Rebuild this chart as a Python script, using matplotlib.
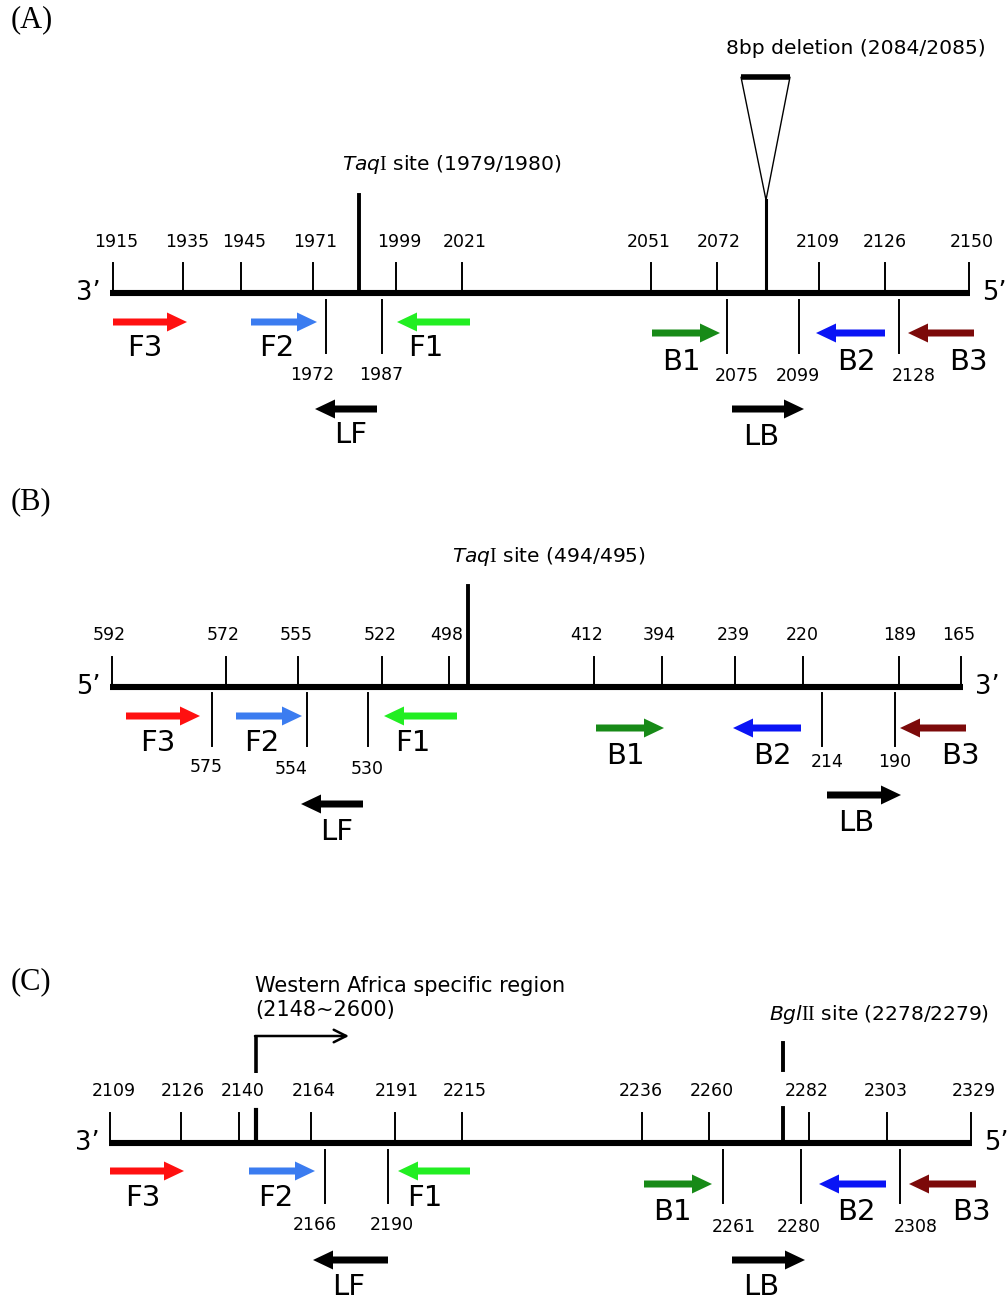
import matplotlib
matplotlib.use("Agg")
import matplotlib.pyplot as plt
from matplotlib.patches import Polygon

plt.rcParams['font.family'] = ['DejaVu Sans']
plt.rcParams['mathtext.fontset'] = 'custom'
plt.rcParams['mathtext.it'] = 'DejaVu Sans:italic'
plt.rcParams['mathtext.rm'] = 'Liberation Serif'

PRIMERS = ["F3", "F2", "F1", "B1", "B2", "B3", "LF", "LB"]
PRIMER_COLORS = ["#ff1010", "#3b7cf0", "#22ee22", "#178a17", "#0a14f5", "#7c0a0a", "black", "black"]

# (A) positions on the reference gene
A_TOP_LABELS = ["1915", "1935", "1945", "1971", "1999", "2021", "2051", "2072", "2109", "2126", "2150"]
A_BOTTOM_LABELS = ["1972", "1987", "2075", "2099", "2128"]
A_SITE = r"$\mathit{Taq}\mathrm{I}$ site (1979/1980)"
A_DELETION = "8bp deletion (2084/2085)"

# (B)
B_TOP_LABELS = ["592", "572", "555", "522", "498", "412", "394", "239", "220", "189", "165"]
B_BOTTOM_LABELS = ["575", "554", "530", "214", "190"]
B_SITE = r"$\mathit{Taq}\mathrm{I}$ site (494/495)"

# (C)
C_TOP_LABELS = ["2109", "2126", "2140", "2164", "2191", "2215", "2236", "2260", "2282", "2303", "2329"]
C_BOTTOM_LABELS = ["2166", "2190", "2261", "2280", "2308"]
C_SITE = r"$\mathit{Bgl}\mathrm{II}$ site (2278/2279)"
C_REGION = "Western Africa specific region\n(2148~2600)"

# layout (pixel coordinates of the drawing)
A_LAYOUT = dict(
    line_y=293, x0=110, x1=970, ends=("3\u2019", "5\u2019"),
    top_x=[113, 183, 241, 313, 396, 462, 651, 717, 819, 885, 969],
    top_lx=[116, 187, 244, 315, 399, 465, 649, 719, 818, 885, 972],
    top_y=(263, 293), top_ly=242,
    bot_x=[326, 382, 727, 799, 899],
    bot_lx=[312, 381, 737, 798, 914], bot_ly=[375, 375, 376, 376, 376],
    bot_y=(300, 353),
    starts=[113, 251, 470, 652, 885, 974, 377, 732],
    ends_x=[187, 317, 397, 720, 816, 908, 315, 804],
    arrow_y=[322, 322, 322, 333, 333, 333, 409, 409],
    lab_x=[145, 277, 426, 681, 856, 968, 351, 761],
    lab_y=[348, 348, 348, 362, 362, 362, 435, 437],
)
B_LAYOUT = dict(
    line_y=687, x0=110, x1=963, ends=("5\u2019", "3\u2019"),
    top_x=[112, 226, 298, 382, 449, 594, 662, 735, 803, 899, 961],
    top_lx=[109, 223, 296, 380, 447, 587, 659, 733, 802, 900, 959],
    top_y=(657, 687), top_ly=635,
    bot_x=[212, 307, 368, 822, 895],
    bot_lx=[206, 291, 367, 827, 895], bot_ly=[767, 769, 769, 762, 762],
    bot_y=(693, 746),
    starts=[126, 236, 457, 596, 801, 966, 363, 827],
    ends_x=[200, 302, 384, 664, 733, 900, 301, 901],
    arrow_y=[716, 716, 716, 728, 728, 728, 804, 795],
    lab_x=[158, 262, 413, 625, 772, 960, 337, 856],
    lab_y=[743, 743, 743, 756, 756, 756, 832, 823],
)
C_LAYOUT = dict(
    line_y=1143, x0=109, x1=972, ends=("3\u2019", "5\u2019"),
    top_x=[110, 181, 239, 311, 395, 462, 642, 709, 809, 887, 971],
    top_lx=[114, 183, 243, 314, 397, 465, 641, 712, 807, 886, 974],
    top_y=(1113, 1143), top_ly=1091,
    bot_x=[325, 388, 723, 801, 900],
    bot_lx=[315, 392, 734, 799, 916], bot_ly=[1225, 1225, 1227, 1227, 1227],
    bot_y=(1150, 1203),
    starts=[110, 249, 470, 644, 886, 976, 388, 732],
    ends_x=[184, 315, 398, 712, 819, 909, 313, 805],
    arrow_y=[1171, 1171, 1171, 1184, 1184, 1184, 1260, 1260],
    lab_x=[143, 276, 425, 672, 856, 971, 349, 761],
    lab_y=[1198, 1198, 1198, 1212, 1212, 1212, 1287, 1287],
)


def draw_panel(ax, top_labels, bottom_labels, lay):
    y = lay["line_y"]
    ax.plot([lay["x0"], lay["x1"]], [y, y], color="black", lw=4.4, solid_capstyle="butt")
    ax.text(lay["x0"] - 22, y, lay["ends"][0], fontsize=18.5, ha="center", va="center")
    ax.text(lay["x1"] + 24, y, lay["ends"][1], fontsize=18.5, ha="center", va="center")
    for x, lx, lab in zip(lay["top_x"], lay["top_lx"], top_labels):
        ax.plot([x, x], lay["top_y"], color="black", lw=1.4)
        ax.text(lx, lay["top_ly"], lab, fontsize=12.5, ha="center", va="center")
    for x, lx, ly, lab in zip(lay["bot_x"], lay["bot_lx"], lay["bot_ly"], bottom_labels):
        ax.plot([x, x], lay["bot_y"], color="black", lw=1.4)
        ax.text(lx, ly, lab, fontsize=12.5, ha="center", va="center")
    for name, c, s, e, ay, tx, ty in zip(PRIMERS, PRIMER_COLORS, lay["starts"], lay["ends_x"],
                                         lay["arrow_y"], lay["lab_x"], lay["lab_y"]):
        ax.arrow(s, ay, e - s, 0, width=7, head_width=19, head_length=20,
                 length_includes_head=True, color=c, lw=0)
        ax.text(tx, ty, name, fontsize=21, ha="center", va="center")


fig = plt.figure(figsize=(10.08, 13.02), dpi=100)
ax = fig.add_axes([0, 0, 1, 1])
ax.set_xlim(0, 1008)
ax.set_ylim(1302, 0)
ax.axis("off")

for tag, ty in zip(["(A)", "(B)", "(C)"], [20, 502, 982]):
    ax.text(11, ty, tag, fontsize=22, family="Liberation Serif", ha="left", va="center")

# (A)
draw_panel(ax, A_TOP_LABELS, A_BOTTOM_LABELS, A_LAYOUT)
ax.plot([359, 359], [195, 293], color="black", lw=2.8)
ax.text(452, 165, A_SITE, fontsize=14.6, ha="center", va="center")
ax.plot([766, 766], [200, 293], color="black", lw=2.2)
ax.add_patch(Polygon([(741, 77), (790, 77), (766, 200)], closed=True,
                     facecolor="white", edgecolor="black", lw=1.0))
ax.plot([741, 790], [77, 77], color="black", lw=4, solid_capstyle="butt")
ax.text(856, 48, A_DELETION, fontsize=14.6, ha="center", va="center")

# (B)
draw_panel(ax, B_TOP_LABELS, B_BOTTOM_LABELS, B_LAYOUT)
ax.plot([468, 468], [586, 687], color="black", lw=2.8)
ax.text(549, 557, B_SITE, fontsize=14.6, ha="center", va="center")

# (C)
draw_panel(ax, C_TOP_LABELS, C_BOTTOM_LABELS, C_LAYOUT)
ax.plot([256, 256], [1110, 1143], color="black", lw=3)
ax.plot([256, 256], [1073, 1036], color="black", lw=2.6, solid_capstyle="butt")
ax.annotate("", xy=(349, 1036), xytext=(255, 1036),
            arrowprops=dict(arrowstyle="->,head_length=0.9,head_width=0.45", lw=1.8,
                            color="black", shrinkA=0, shrinkB=0))
ax.text(255, 998, C_REGION, fontsize=15, ha="left", va="center", linespacing=1.25)
ax.plot([783, 783], [1043, 1070], color="black", lw=2.8)
ax.plot([783, 783], [1108, 1143], color="black", lw=2.8)
ax.text(879, 1015, C_SITE, fontsize=14.6, ha="center", va="center")

fig.savefig("out.png", dpi=100)
